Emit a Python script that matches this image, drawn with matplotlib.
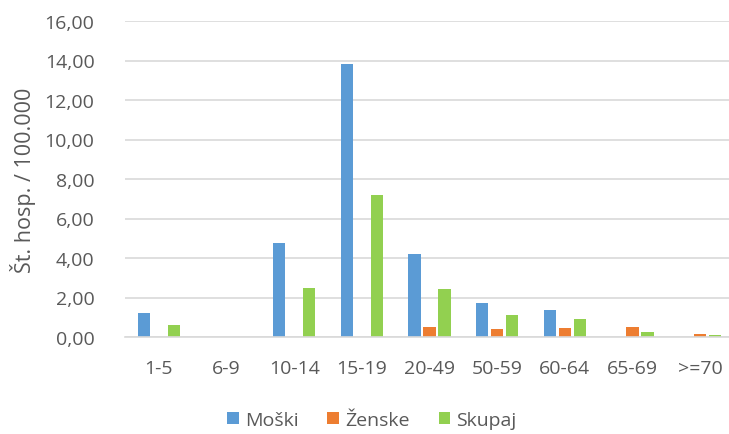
import numpy as np
import matplotlib.pyplot as plt
from matplotlib.ticker import FuncFormatter

categories = ["1-5", "6-9", "10-14", "15-19", "20-49", "50-59", "60-64", "65-69", ">=70"]
moski = [1.19, 0, 4.78, 13.84, 4.22, 1.74, 1.36, 0, 0]
zenske = [0, 0, 0, 0, 0.49, 0.42, 0.44, 0.49, 0.17]
skupaj = [0.60, 0, 2.46, 7.17, 2.44, 1.09, 0.90, 0.23, 0.08]

plt.rcParams['font.family'] = ['Open Sans', 'DejaVu Sans']
grey = "#595959"

fig = plt.figure(figsize=(7.29, 4.35), dpi=100)
ax = fig.add_axes([125 / 729, 1 - 338 / 435, 609 / 729, 316 / 435])

x = np.arange(len(categories))
w = 0.178
off = 0.222
ax.bar(x - off, moski, w, color="#5b9bd5", label="Moški")
ax.bar(x, zenske, w, color="#ed7d31", label="Ženske")
ax.bar(x + off, skupaj, w, color="#92d050", label="Skupaj")

ax.set_ylim(0, 16)
ax.set_yticks(np.arange(0, 17, 2))
ax.yaxis.set_major_formatter(FuncFormatter(lambda v, p: f"{v:.2f}".replace(".", ",")))
ax.set_xlim(-0.5, len(categories) - 0.5)
ax.set_xticks(x)
ax.set_xticklabels(categories)
ax.grid(axis="y", color="#d9d9d9", linewidth=1.2)
ax.set_axisbelow(True)
for s in ["top", "right", "left"]:
    ax.spines[s].set_visible(False)
ax.spines["bottom"].set_color("#d9d9d9")
ax.spines["bottom"].set_linewidth(1.2)
ax.tick_params(length=0, labelsize=14, colors=grey)
ax.tick_params(axis="x", pad=16)
ax.tick_params(axis="y", pad=22)
ax.set_ylabel("Št. hosp. / 100.000", fontsize=15.5, color=grey, labelpad=6)

fig.legend(loc="center", ncol=3, frameon=False, fontsize=14,
           labelcolor=grey, handlelength=0.6, handleheight=0.6,
           columnspacing=1.5, handletextpad=0.3, bbox_to_anchor=(0.51, 0.032))

fig.savefig("out.png", dpi=100)
